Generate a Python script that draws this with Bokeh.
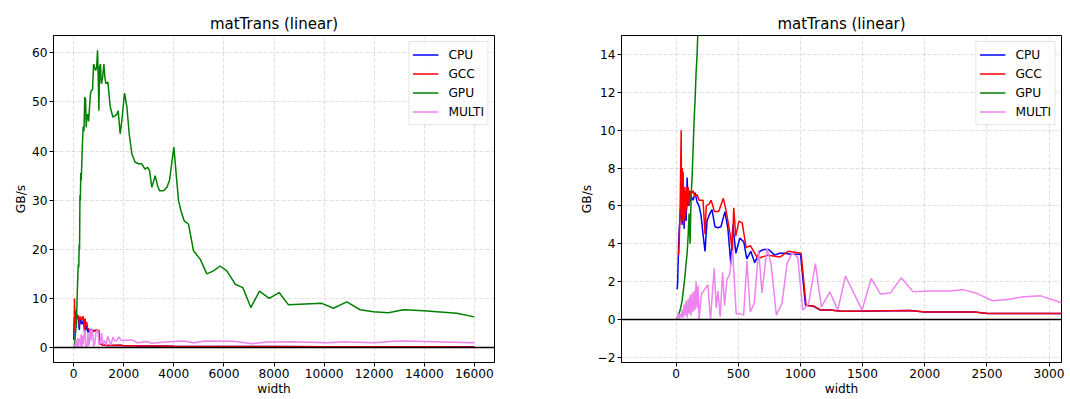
from bokeh.plotting import figure
from bokeh.layouts import row
from bokeh.models import Span, Range1d, FixedTicker
from bokeh.embed import file_html
from bokeh.resources import INLINE

series_names = ["CPU", "GCC", "GPU", "MULTI"]
series_colors = ["blue", "red", "green", "violet"]

cpu_x = [8, 12, 20, 24, 32, 40, 48, 56, 64, 72, 80, 88, 96, 104, 112, 120, 136, 152, 168, 184,
         200, 216, 232, 248, 264, 288, 312, 336, 360, 392, 416, 440, 456, 480, 512, 544, 568, 600,
         632, 672, 704, 744, 792, 832, 872, 920, 960, 1000, 1040, 1104, 1160, 1240, 1330, 1500,
         1880, 2000, 2400, 2500, 3100, 4000, 5000, 6000, 8000, 10000, 12000, 14000, 16000]
cpu_y = [1.6, 2.0, 4.1, 4.7, 5.5, 6.2, 5.0, 6.8, 4.8, 6.5, 5.2, 7.5, 6.0, 6.8, 6.2, 6.5, 6.3, 6.7, 6.2, 6.0,
         5.5, 4.5, 3.6, 5.2, 5.5, 5.8, 4.9, 4.85, 4.9, 5.7, 4.8, 2.9, 5.0, 3.5, 4.3, 4.1, 3.2, 3.6,
         3.0, 3.6, 3.7, 3.7, 3.4, 3.5, 3.5, 3.45, 3.45, 3.45, 0.75, 0.7, 0.5, 0.5, 0.44, 0.44,
         0.47, 0.4, 0.4, 0.32, 0.32, 0.28, 0.25, 0.22, 0.2, 0.18, 0.17, 0.15, 0.14]

gcc_x = [20, 24, 32, 40, 44, 48, 52, 56, 60, 64, 68, 72, 76, 80, 84, 88, 96, 104, 112, 120, 136,
         152, 168, 184, 200, 216, 232, 242, 264, 281, 308, 342, 379, 400, 434, 452, 463, 479, 505,
         531, 563, 597, 623, 658, 689, 742, 834, 900, 1005, 1045, 1110, 1163, 1242, 1330, 1880,
         2000, 2400, 2510, 3100, 4000, 5000, 6000, 8000, 10000, 12000, 14000, 16000]
gcc_y = [3.4, 4.0, 6.0, 10.0, 5.5, 8.0, 5.2, 7.8, 5.0, 7.0, 5.3, 6.8, 5.5, 7.0, 5.8, 6.3, 7.0, 6.0, 6.8, 6.6, 6.8,
         6.5, 6.6, 6.3, 6.3, 6.3, 4.5, 6.0, 6.1, 6.3, 5.7, 5.7, 6.4, 5.8, 4.5, 3.6, 5.9, 4.4, 5.2,
         5.1, 3.8, 3.9, 3.6, 3.2, 3.3, 3.4, 3.3, 3.6, 3.5, 0.75, 0.7, 0.5, 0.5, 0.44, 0.47,
         0.4, 0.4, 0.32, 0.32, 0.28, 0.25, 0.22, 0.2, 0.18, 0.17, 0.15, 0.14]

gpu_x = [0, 16, 32, 48, 64, 72, 80, 88, 96, 104, 112, 120, 128, 136, 144, 152, 160, 168, 176, 192,
         208, 224, 240, 256, 272, 288, 304, 320, 352, 384, 416, 448, 480, 505, 530, 560, 600, 640,
         672, 705, 758, 800, 840, 880, 920, 958, 985, 1011, 1037, 1077, 1100, 1117, 1160, 1210,
         1250, 1290, 1370, 1463, 1569, 1662, 1729, 1780, 1862, 1928, 2035, 2128, 2221, 2327, 2460,
         2594, 2727, 2800, 2860, 2953, 3032, 3126, 3258, 3352, 3431, 3591, 3724, 3830, 4003, 4096,
         4190, 4283, 4416, 4589, 4788, 5054, 5320, 5586, 5852, 6118, 6451, 6756, 7076, 7421, 7807,
         8206, 8579, 9909, 10374, 10906, 11438, 11970, 12568, 13167, 13965, 15295, 16000]
gpu_y = [0.0, 0.2, 0.5, 1.0, 1.9, 2.4, 3.0, 3.5, 4.4, 5.6, 4.0, 6.5, 7.5, 9.0, 10.5, 11.6, 13.0, 14.0, 15.5, 17.0,
         16.3, 21.0, 20.0, 31.0, 30.0, 35.5, 34.0, 36.0, 41.0, 45.0, 44.0, 51.0, 50.5, 44.8, 47.0, 47.5, 46.0, 49.0,
         51.5, 52.3, 52.5, 57.7, 57.0, 56.4, 57.0, 60.5, 55.0, 48.2, 57.0, 57.7, 54.0, 53.7, 55.0, 57.7,
         55.0, 53.7, 54.0, 49.0, 46.9, 47.2, 47.5, 48.2, 43.5, 46.2, 51.8, 49.0, 43.5, 39.4, 37.7,
         37.4, 37.4, 36.7, 36.3, 36.7, 36.0, 32.6, 35.0, 33.0, 31.9, 31.9, 32.6, 34.0, 40.8, 35.3,
         29.9, 27.9, 25.8, 25.1, 19.7, 18.0, 15.0, 15.6, 16.6, 15.6, 12.9, 12.2, 8.15, 11.5, 10.0,
         11.2, 8.7, 9.0, 8.0, 9.3, 7.7, 7.3, 7.1, 7.7, 7.5, 7.0, 6.25]

multi_x = [0, 8, 16, 24, 32, 40, 48, 56, 64, 72, 80, 88, 96, 104, 112, 120, 128, 136, 144, 152, 160,
           168, 176, 184, 203, 255, 276, 306, 322, 336, 354, 373, 389, 408, 430, 454, 483, 516, 543,
           569, 596, 628, 663, 690, 731, 763, 806, 851, 892, 932, 978, 1018, 1066, 1120, 1168, 1236,
           1300, 1362, 1496, 1569, 1644, 1724, 1810, 1907, 2020, 2208, 2307, 2423, 2544, 2665, 2799,
           2933, 3094, 3790, 4390, 4788, 5250, 6384, 7116, 7714, 8778, 10108, 10773, 11970, 12768,
           13300, 14763, 16000]
multi_y = [0.0, 0.1, 0.3, 0.05, 0.3, 0.1, 0.5, 0.1, 0.8, 0.2, 1.0, 0.1, 1.1, 0.3, 1.3, 0.2, 1.4, 0.4, 1.5, 0.5, 2.0,
           0.6, 1.8, 0.0, 1.35, 1.83, 0.0, 2.7, 0.6, 1.5, 0.15, 2.5, 0.75, 2.1, 2.4, 3.65, 0.3, 0.3, 0.23,
           3.1, 0.4, 0.85, 3.65, 1.4, 3.75, 2.95, 0.23, 0.85, 2.95, 3.5, 3.3, 0.5, 0.85, 2.95, 0.67, 1.46,
           0.5, 2.3, 0.5, 2.17, 1.34, 1.41, 2.2, 1.46, 1.51, 1.5, 1.58, 1.37, 0.99, 1.06, 1.2,
           1.25, 0.9, 1.2, 1.36, 1.0, 1.36, 1.3, 0.8, 1.15, 1.2, 1.0, 1.2, 1.0, 1.3,
           1.36, 1.15, 1.0]

left_xticks = [0, 2000, 4000, 6000, 8000, 10000, 12000, 14000, 16000]
left_yticks = [0, 10, 20, 30, 40, 50, 60]
right_xticks = [0, 500, 1000, 1500, 2000, 2500, 3000]
right_yticks = [-2, 0, 2, 4, 6, 8, 10, 12, 14]

FONT = "DejaVu Sans"
TICK_FS = "12.2px"


def make(xr, yr, xticks, yticks, width, bl, br):
    p = figure(width=width, height=399, x_range=Range1d(*xr), y_range=Range1d(*yr),
               output_backend="svg", toolbar_location=None,
               min_border_left=bl, min_border_right=br, min_border_top=35, min_border_bottom=37,
               title="matTrans (linear)")
    p.title.align = "center"
    p.title.text_font = FONT
    p.title.text_font_size = "15px"
    p.title.text_font_style = "normal"
    p.title.text_color = "black"
    p.title.standoff = 6
    p.outline_line_color = "black"
    p.outline_line_width = 1
    p.outline_line_alpha = 1
    p.background_fill_color = "white"
    p.border_fill_color = "white"

    p.xaxis.ticker = FixedTicker(ticks=xticks)
    p.yaxis.ticker = FixedTicker(ticks=yticks)
    for ax in (p.xaxis, p.yaxis):
        ax.major_label_text_font = FONT
        ax.major_label_text_font_size = TICK_FS
        ax.major_label_text_color = "black"
        ax.axis_label_text_font = FONT
        ax.axis_label_text_font_size = TICK_FS
        ax.axis_label_text_font_style = "normal"
        ax.axis_label_text_color = "black"
        ax.minor_tick_line_color = None
        ax.major_tick_in = 0
        ax.major_tick_out = 4
        ax.major_tick_line_color = "black"
        ax.axis_line_color = "black"
        ax.major_label_standoff = 2
        ax.axis_label_standoff = 1
    p.xaxis.axis_label = "width"
    p.yaxis.axis_label = "GB/s"
    p.yaxis.major_label_overrides = {t: ("\u2212" + str(-t)) for t in yticks if t < 0}

    p.grid.grid_line_color = "#b0b0b0"
    p.grid.grid_line_alpha = 0.5
    p.grid.grid_line_dash = "4 2"
    p.grid.grid_line_width = 0.8

    data = [(cpu_x, cpu_y), (gcc_x, gcc_y), (gpu_x, gpu_y), (multi_x, multi_y)]
    for (xs, ys), name, col in zip(data, series_names, series_colors):
        p.line(xs, ys, line_color=col, line_width=1.5, legend_label=name)

    p.add_layout(Span(location=0, dimension="width", line_color="black", line_width=1.5))

    lg = p.legend[0]
    lg.location = "top_right"
    lg.margin = 6
    lg.padding = 3
    lg.spacing = 0
    lg.glyph_height = 19
    lg.label_height = 19
    lg.glyph_width = 26
    lg.label_standoff = 10
    lg.label_text_font = FONT
    lg.label_text_font_size = TICK_FS
    lg.label_text_color = "black"
    lg.border_line_color = "#cccccc"
    lg.border_line_width = 1
    lg.background_fill_alpha = 0.8
    return p


left = make((-800, 16800), (-3.03, 63.5), left_xticks, left_yticks, 560, 53, 66)
right = make((-440, 3100), (-2.27, 15.0), right_xticks, right_yticks, 510, 61, 9)

layout = row(left, right)
open("out.html", "w").write(file_html(layout, INLINE))
